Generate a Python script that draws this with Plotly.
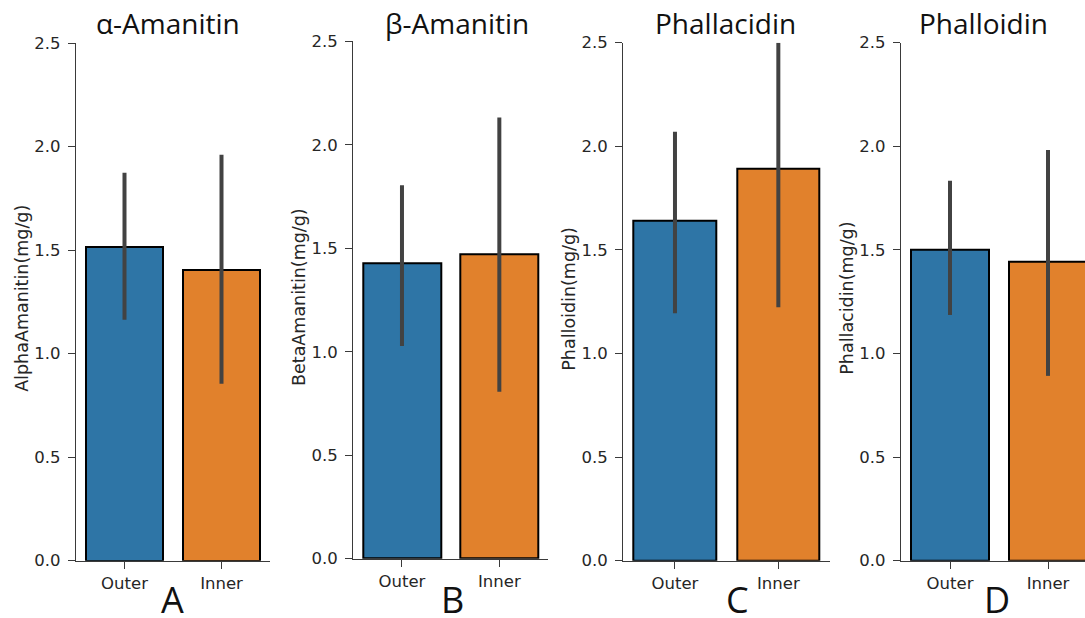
import plotly.graph_objects as go

# ---------------- data ----------------
categories = ["Outer", "Inner"]
titles = ["α-Amanitin", "β-Amanitin", "Phallacidin", "Phalloidin"]
ylabels = ["AlphaAmanitin(mg/g)", "BetaAmanitin(mg/g)", "Phalloidin(mg/g)", "Phallacidin(mg/g)"]
panel_letters = ["A", "B", "C", "D"]

alpha_mean = [1.517, 1.404]
alpha_lo = [1.163, 0.854]
alpha_hi = [1.874, 1.960]

beta_mean = [1.425, 1.472]
beta_lo = [1.028, 0.807]
beta_hi = [1.805, 2.132]

phallacidin_mean = [1.640, 1.894]
phallacidin_lo = [1.194, 1.223]
phallacidin_hi = [2.070, 2.500]

phalloidin_mean = [1.500, 1.442]
phalloidin_lo = [1.186, 0.892]
phalloidin_hi = [1.834, 1.982]

yticks = [0.0, 0.5, 1.0, 1.5, 2.0, 2.5]

means = [alpha_mean, beta_mean, phallacidin_mean, phalloidin_mean]
los = [alpha_lo, beta_lo, phallacidin_lo, phalloidin_lo]
his = [alpha_hi, beta_hi, phallacidin_hi, phalloidin_hi]

# ---------------- layout geometry (pixels) ----------------
W, H = 1085, 618
# (x_left, x_right, y_top, y_bottom, x_range_max)
panels = [
    (76.0, 270.0, 43.0, 560.7, 1.5),
    (353.3, 548.0, 41.3, 558.7, 1.5),
    (623.3, 830.0, 42.7, 560.7, 1.5),
    (901.0, 1085.0, 42.7, 560.7, -0.5 + 184.0 / 98.0),
]
title_x = [168, 457, 725, 983]
letter_x = [172, 452, 737, 997]
ylabel_x = [22, 299, 569, 847]

colors = ["#2e75a6", "#e1812c"]
err_color = "#424242"
tick_font = dict(family="DejaVu Sans", size=16.5, color="#262626")

fig = go.Figure()
annotations = []
layout_axes = {}

for i in range(4):
    xl, xr, yt, yb, xmax = panels[i]
    n = "" if i == 0 else str(i + 1)
    xa, ya = "x" + n, "y" + n
    m, lo, hi = means[i], los[i], his[i]
    for j, cat in enumerate(categories):
        fig.add_trace(go.Bar(
            x=[j], y=[m[j]], width=0.8,
            marker=dict(color=colors[j], line=dict(color="black", width=2)),
            error_y=dict(type="data", symmetric=False,
                         array=[hi[j] - m[j]], arrayminus=[m[j] - lo[j]],
                         color=err_color, thickness=4, width=0),
            xaxis=xa, yaxis=ya, showlegend=False, hoverinfo="skip",
        ))
    layout_axes["xaxis" + n] = dict(
        domain=[xl / W, min(xr / W, 1.0)], range=[-0.5, xmax],
        tickvals=[0, 1], ticktext=categories, anchor=ya,
        showline=True, linecolor="#3a3a3a", linewidth=1.3,
        ticks="outside", ticklen=7, tickwidth=1.3, tickcolor="#3a3a3a",
        showgrid=False, zeroline=False, tickfont=tick_font, fixedrange=True,
        automargin=False,
    )
    layout_axes["yaxis" + n] = dict(
        domain=[1 - yb / H, 1 - yt / H], range=[0, 2.5],
        tickvals=yticks, ticktext=["%.1f" % v for v in yticks], anchor=xa,
        showline=True, linecolor="#3a3a3a", linewidth=1.3,
        ticks="outside", ticklen=7, tickwidth=1.3, tickcolor="#3a3a3a",
        showgrid=False, zeroline=False, tickfont=tick_font, fixedrange=True,
        ticklabelstandoff=4, automargin=False,
    )
    # title
    annotations.append(dict(
        text=titles[i], x=title_x[i] / W, y=1 - 23 / H, xref="paper", yref="paper",
        xanchor="center", yanchor="middle", showarrow=False,
        font=dict(family="Open Sans", size=28, color="#111111"),
    ))
    # panel letter
    annotations.append(dict(
        text=panel_letters[i], x=letter_x[i] / W, y=1 - 599 / H, xref="paper", yref="paper",
        xanchor="center", yanchor="middle", showarrow=False,
        font=dict(family="Open Sans", size=36, color="#111111"),
    ))
    # y label
    annotations.append(dict(
        text=ylabels[i], x=ylabel_x[i] / W, y=1 - ((yt + yb) / 2 - 3) / H,
        xref="paper", yref="paper", xanchor="center", yanchor="middle",
        textangle=-90, showarrow=False,
        font=dict(family="DejaVu Sans", size=17.5, color="#262626"),
    ))

fig.update_layout(
    template="none",
    width=W, height=H,
    margin=dict(l=0, r=0, t=0, b=0, pad=0),
    paper_bgcolor="white", plot_bgcolor="white",
    annotations=annotations, showlegend=False, bargap=0,
    **layout_axes,
)

fig.write_html(
    "out.html",
    config={"displayModeBar": False},
    post_script="document.body.style.margin='0px';document.body.style.overflow='hidden';",
)
